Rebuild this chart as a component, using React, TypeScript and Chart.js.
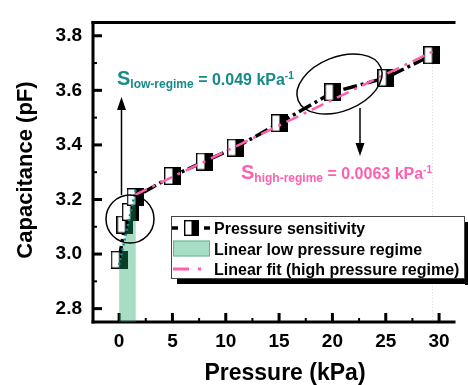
import React, { useEffect, useRef } from 'react';
import { Chart, registerables } from 'chart.js';

Chart.register(...registerables);

// ---- data ----
const pressure = [0, 0.55, 1.05, 1.5, 5, 8, 10.9, 15.03, 20.04, 25.02, 29.33];
const capacitance = [2.979, 3.108, 3.154, 3.209, 3.286, 3.339, 3.39, 3.48, 3.593, 3.646, 3.729];
const lowFitX = [0, 1.57];
const lowFitY = [2.96, 3.24];
const highFitX = [1.5, 29.4];
const highFitY = [3.217, 3.742];
const xTickValues = [0, 5, 10, 15, 20, 25, 30];
const yTickValues = [2.8, 3.0, 3.2, 3.4, 3.6, 3.8];
const legendLabels = ['Pressure sensitivity', 'Linear low pressure regime', 'Linear fit (high pressure regime)'];
const lowSub = 'low-regime';
const lowRest = ' = 0.049 kPa';
const highSub = 'high-regime';
const highRest = ' = 0.0063 kPa';
const xTitle = 'Pressure (kPa)';
const yTitle = 'Capacitance (pF)';

const FF = "'Liberation Sans', Arial, sans-serif";
const TEAL = '#16898a';
const PINK = '#ff5fae';
const GREEN = 'rgba(20,165,100,0.38)';

function makeMarker(w: number, h: number) {
  const c = document.createElement('canvas');
  c.width = w;
  c.height = h;
  const g = c.getContext('2d')!;
  g.fillStyle = '#fff';
  g.fillRect(0, 0, w, h);
  g.fillStyle = '#000';
  g.fillRect(w / 2, 0, w / 2, h);
  g.strokeStyle = '#000';
  g.lineWidth = 1.4;
  g.strokeRect(0.7, 0.7, w - 1.4, h - 1.4);
  return c;
}

function line(ctx: CanvasRenderingContext2D, x1: number, y1: number, x2: number, y2: number) {
  ctx.beginPath();
  ctx.moveTo(x1, y1);
  ctx.lineTo(x2, y2);
  ctx.stroke();
}

function drawS(ctx: CanvasRenderingContext2D, x: number, base: number, sub: string, rest: string, color: string) {
  ctx.save();
  ctx.fillStyle = color;
  ctx.textAlign = 'left';
  ctx.textBaseline = 'alphabetic';
  ctx.font = `bold 20px ${FF}`;
  ctx.fillText('S', x, base);
  let cx = x + ctx.measureText('S').width;
  ctx.font = `bold 12px ${FF}`;
  ctx.fillText(sub, cx, base + 3);
  cx += ctx.measureText(sub).width;
  ctx.font = `bold 16px ${FF}`;
  ctx.fillText(rest, cx, base);
  cx += ctx.measureText(rest).width;
  ctx.font = `bold 10px ${FF}`;
  ctx.fillText('-1', cx, base - 6);
  ctx.restore();
}

function arrow(ctx: CanvasRenderingContext2D, x: number, y1: number, y2: number) {
  // line from y1 to tip y2
  const dir = y2 < y1 ? -1 : 1;
  ctx.save();
  ctx.strokeStyle = '#000';
  ctx.fillStyle = '#000';
  ctx.lineWidth = 1.5;
  line(ctx, x, y1, x, y2 - dir * 8);
  ctx.beginPath();
  ctx.moveTo(x, y2);
  ctx.lineTo(x - 4.5, y2 - dir * 13);
  ctx.lineTo(x + 4.5, y2 - dir * 13);
  ctx.closePath();
  ctx.fill();
  ctx.restore();
}

const annotPlugin = {
  id: 'annot',
  beforeDatasetsDraw(chart: any) {
    const ctx: CanvasRenderingContext2D = chart.ctx;
    const { left, right, top, bottom } = chart.chartArea;
    const xs = chart.scales.x;
    const ys = chart.scales.y;
    ctx.save();
    // drop line
    ctx.strokeStyle = '#d8d8d8';
    ctx.lineWidth = 1;
    ctx.setLineDash([1, 2]);
    const lx = Math.round(xs.getPixelForValue(pressure[pressure.length - 1])) + 0.5;
    line(ctx, lx, ys.getPixelForValue(capacitance[capacitance.length - 1]) + 9, lx, bottom);
    ctx.setLineDash([]);
    ctx.strokeStyle = '#000';
    ctx.lineWidth = 3;
    line(ctx, left, top - 1.5, left, bottom + 1.5);
    line(ctx, left - 1.5, bottom, right, bottom);
    line(ctx, left - 1.5, top, right, top);
    for (let i = 0; i <= 12; i++) {
      const v = i * 2.5;
      const px = xs.getPixelForValue(v);
      const major = i % 2 === 0;
      ctx.lineWidth = major ? 3 : 2;
      line(ctx, px, bottom, px, bottom - (major ? 9 : 4));
    }
    for (let i = 0; i <= 10; i++) {
      const v = 2.8 + i * 0.1;
      const py = ys.getPixelForValue(v);
      const major = i % 2 === 0;
      ctx.lineWidth = major ? 3 : 2;
      line(ctx, left, py, left + (major ? 9 : 4), py);
    }
    ctx.restore();
  },
  afterDatasetsDraw(chart: any) {
    const ctx: CanvasRenderingContext2D = chart.ctx;
    ctx.save();
    ctx.strokeStyle = '#000';
    ctx.lineWidth = 1.5;
    // low circle
    ctx.beginPath();
    ctx.arc(130, 219, 24, 0, Math.PI * 2);
    ctx.stroke();
    // high ellipse
    ctx.beginPath();
    ctx.ellipse(339.5, 84, 44.5, 27, (-21.7 * Math.PI) / 180, 0, Math.PI * 2);
    ctx.stroke();
    ctx.restore();
    arrow(ctx, 121.5, 195, 97);
    arrow(ctx, 360, 108, 156);
    drawS(ctx, 117, 85, lowSub, lowRest, TEAL);
    drawS(ctx, 241, 179, highSub, highRest, PINK);
  },
  afterDraw(chart: any) {
    const ctx: CanvasRenderingContext2D = chart.ctx;
    ctx.save();
    // axis titles
    ctx.fillStyle = '#000';
    ctx.font = `bold 23px ${FF}`;
    ctx.textAlign = 'center';
    ctx.textBaseline = 'alphabetic';
    ctx.fillText(xTitle, 285, 380);
    ctx.save();
    ctx.translate(32, 170);
    ctx.rotate(-Math.PI / 2);
    ctx.font = `bold 22px ${FF}`;
    ctx.fillText(yTitle, 0, 0);
    ctx.restore();

    // legend
    const bx = 171, by = 216, bw = 294, bh = 63;
    ctx.fillStyle = '#000';
    ctx.fillRect(bx + 6, by + bh, bw, 5);
    ctx.fillRect(bx + bw, by + 6, 5, bh);
    ctx.fillStyle = '#fff';
    ctx.fillRect(bx, by, bw, bh);
    ctx.strokeStyle = '#444';
    ctx.lineWidth = 1;
    ctx.strokeRect(bx + 0.5, by + 0.5, bw - 1, bh - 1);

    // row 1 symbol
    const r1 = 228, r2 = 248.5, r3 = 269;
    ctx.strokeStyle = '#000';
    ctx.lineWidth = 3.5;
    line(ctx, 172, r1, 178, r1);
    line(ctx, 204, r1, 210, r1);
    ctx.drawImage(makeMarker(15, 16), 184, r1 - 8);
    // row 2
    ctx.fillStyle = GREEN;
    ctx.fillRect(173, r2 - 8, 37, 16);
    ctx.strokeStyle = 'rgba(60,150,100,0.6)';
    ctx.lineWidth = 1;
    ctx.strokeRect(173.5, r2 - 7.5, 36, 15);
    // row 3
    ctx.strokeStyle = PINK;
    ctx.lineWidth = 3;
    line(ctx, 173, r3, 189, r3);
    line(ctx, 198, r3, 201, r3);

    ctx.fillStyle = '#000';
    ctx.font = `bold 16px ${FF}`;
    ctx.textAlign = 'left';
    ctx.textBaseline = 'alphabetic';
    ctx.fillText(legendLabels[0], 214, r1 + 6);
    ctx.fillText(legendLabels[1], 214, r2 + 6);
    ctx.fillText(legendLabels[2], 214, r3 + 6);
    ctx.restore();
  },
};

export default function App() {
  const ref = useRef<HTMLCanvasElement | null>(null);
  useEffect(() => {
    document.body.style.margin = '0';
    const canvas = ref.current!;
    const tickFont = { family: FF, size: 19, weight: 'bold' as const };
    const chart = new Chart(canvas, {
      type: 'line',
      data: {
        datasets: [
          {
            label: 'low',
            data: lowFitX.map((x, i) => ({ x, y: lowFitY[i] })),
            borderColor: TEAL,
            borderWidth: 2.5,
            borderDash: [2, 3],
            pointRadius: 0,
            fill: 'start',
            backgroundColor: GREEN,
            order: 0,
          },
          {
            label: 'high',
            data: highFitX.map((x, i) => ({ x, y: highFitY[i] })),
            borderColor: PINK,
            borderWidth: 2.5,
            borderDash: [13, 6, 3, 6],
            pointRadius: 0,
            fill: false,
            order: 1,
          },
          {
            label: 'data',
            data: pressure.map((x, i) => ({ x, y: capacitance[i] })),
            borderColor: '#000',
            borderWidth: 3.5,
            borderDash: [14, 4, 3, 4],
            pointStyle: makeMarker(17, 18) as any,
            pointRadius: 9,
            fill: false,
            order: 2,
          },
        ],
      },
      options: {
        animation: false,
        responsive: true,
        maintainAspectRatio: false,
        layout: { padding: { top: 10, left: 0, right: 0, bottom: 0 } },
        plugins: { legend: { display: false }, tooltip: { enabled: false } },
        scales: {
          x: {
            type: 'linear',
            min: -2.447,
            max: 31.54,
            afterFit: (s: any) => {
              s.height = 63;
            },
            afterBuildTicks: (s: any) => {
              s.ticks = xTickValues.map((v) => ({ value: v }));
            },
            grid: { display: false, drawTicks: false },
            border: { display: false },
            ticks: {
              font: tickFont,
              color: '#000',
              padding: 8,
              autoSkip: false,
              maxRotation: 0,
              callback: (v: any) => String(v),
            },
          },
          y: {
            type: 'linear',
            min: 2.751,
            max: 3.849,
            afterFit: (s: any) => {
              s.width = 93;
            },
            afterBuildTicks: (s: any) => {
              s.ticks = yTickValues.map((v) => ({ value: v }));
            },
            grid: { display: false, drawTicks: false },
            border: { display: false },
            ticks: {
              font: tickFont,
              color: '#000',
              padding: 11,
              autoSkip: false,
              callback: (v: any) => Number(v).toFixed(1),
            },
          },
        },
      },
      plugins: [annotPlugin],
    });
    return () => chart.destroy();
  }, []);
  return (
    <div style={{ position: 'fixed', left: 0, top: 0, width: 468, height: 385, background: '#fff' }}>
      <canvas ref={ref} />
    </div>
  );
}
